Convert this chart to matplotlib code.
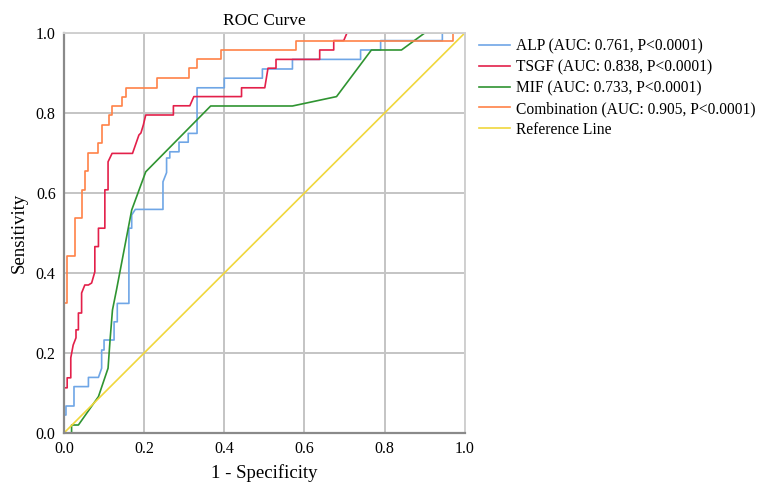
import matplotlib.pyplot as plt

plt.rcParams['font.family'] = ['Liberation Serif', 'DejaVu Serif']

# ROC vertices (1 - specificity, sensitivity)
alp_fpr = [0, 0, 0.005, 0.005, 0.025, 0.025, 0.061, 0.061, 0.086, 0.094, 0.094, 0.100, 0.100,
           0.125, 0.125, 0.133, 0.133, 0.162, 0.162, 0.169, 0.169, 0.178, 0.247, 0.247, 0.256,
           0.256, 0.264, 0.264, 0.287, 0.287, 0.310, 0.310, 0.332, 0.332, 0.400, 0.400, 0.495,
           0.495, 0.570, 0.570, 0.740, 0.740, 0.790, 0.790, 0.944, 0.944, 1.0]
alp_tpr = [0, 0.045, 0.045, 0.0675, 0.0675, 0.116, 0.116, 0.139, 0.139, 0.162, 0.2075, 0.2075, 0.2325,
           0.2325, 0.278, 0.278, 0.324, 0.324, 0.512, 0.512, 0.545, 0.559, 0.559, 0.628, 0.651,
           0.6875, 0.6875, 0.703, 0.703, 0.727, 0.727, 0.749, 0.749, 0.863, 0.863, 0.887, 0.887,
           0.91, 0.91, 0.934, 0.934, 0.9575, 0.9575, 0.981, 0.981, 1.0, 1.0]

tsgf_fpr = [0, 0, 0.008, 0.008, 0.017, 0.017, 0.023, 0.030, 0.030, 0.036, 0.036, 0.044, 0.044,
            0.052, 0.061, 0.069, 0.077, 0.077, 0.086, 0.086, 0.102, 0.102, 0.110, 0.110, 0.120,
            0.171, 0.187, 0.192, 0.198, 0.204, 0.273, 0.273, 0.314, 0.324, 0.443, 0.443, 0.501,
            0.509, 0.529, 0.529, 0.638, 0.638, 0.673, 0.673, 0.698, 0.706, 1.0]
tsgf_tpr = [0, 0.113, 0.113, 0.138, 0.138, 0.188, 0.22, 0.238, 0.258, 0.258, 0.3, 0.3, 0.35,
            0.37, 0.37, 0.375, 0.403, 0.466, 0.466, 0.512, 0.512, 0.608, 0.608, 0.678, 0.699,
            0.699, 0.745, 0.75, 0.77, 0.795, 0.795, 0.818, 0.818, 0.841, 0.841, 0.863, 0.863,
            0.912, 0.912, 0.934, 0.934, 0.9575, 0.9575, 0.981, 0.981, 1.0, 1.0]

mif_fpr = [0, 0.019, 0.019, 0.036, 0.086, 0.110, 0.115, 0.121, 0.131, 0.169, 0.204, 0.366,
           0.570, 0.680, 0.767, 0.842, 0.900, 1.0]
mif_tpr = [0, 0, 0.02, 0.02, 0.091, 0.162, 0.2325, 0.3075, 0.3575, 0.5575, 0.653, 0.8175,
           0.8175, 0.841, 0.9575, 0.9575, 1.0, 1.0]

comb_fpr = [0, 0, 0.008, 0.008, 0.027, 0.027, 0.044, 0.044, 0.052, 0.052, 0.061, 0.061, 0.085,
            0.085, 0.094, 0.094, 0.113, 0.113, 0.120, 0.120, 0.146, 0.146, 0.154, 0.154, 0.231,
            0.231, 0.312, 0.312, 0.332, 0.332, 0.392, 0.392, 0.579, 0.579, 0.970, 0.970, 1.0]
comb_tpr = [0, 0.326, 0.326, 0.443, 0.443, 0.538, 0.538, 0.608, 0.608, 0.654, 0.654, 0.700, 0.700,
            0.725, 0.725, 0.770, 0.770, 0.795, 0.795, 0.818, 0.818, 0.841, 0.841, 0.863, 0.863,
            0.887, 0.887, 0.912, 0.912, 0.935, 0.935, 0.957, 0.957, 0.980, 0.980, 1.0, 1.0]

labels = ['ALP (AUC: 0.761, P<0.0001)', 'TSGF (AUC: 0.838, P<0.0001)',
          'MIF (AUC: 0.733, P<0.0001)', 'Combination (AUC: 0.905, P<0.0001)', 'Reference Line']
colors = ['#6fa6e6', '#e3204a', '#2f9431', '#ff8247', '#f0d73c']
ticks = [0.0, 0.2, 0.4, 0.6, 0.8, 1.0]

fig = plt.figure(figsize=(7.57, 4.83), dpi=100)
ax = fig.add_axes([0.0845, 0.1035, 0.5295, 0.8282])

ax.plot(alp_fpr, alp_tpr, color=colors[0], lw=1.2, label=labels[0])
ax.plot(tsgf_fpr, tsgf_tpr, color=colors[1], lw=1.2, label=labels[1])
ax.plot(mif_fpr, mif_tpr, color=colors[2], lw=1.2, label=labels[2])
ax.plot(comb_fpr, comb_tpr, color=colors[3], lw=1.2, label=labels[3])
ax.plot([0, 1], [0, 1], color=colors[4], lw=1.2, label=labels[4])

ax.set_xlim(0, 1)
ax.set_ylim(0, 1)
ax.set_xticks(ticks)
ax.set_yticks(ticks)
ax.set_xticklabels(['%.1f' % t for t in ticks])
ax.set_yticklabels(['%.1f' % t for t in ticks])
ax.tick_params(length=0, labelsize=11.5, pad=6)
ax.grid(True, color='#c4c4c4', lw=1.4)
ax.set_axisbelow(True)
for side in ['top', 'right']:
    ax.spines[side].set_color('#d0d0d0')
    ax.spines[side].set_linewidth(1.4)
for side in ['left', 'bottom']:
    ax.spines[side].set_color('#8a8a8a')
    ax.spines[side].set_linewidth(1.6)

ax.set_title('ROC Curve', fontsize=12.5, pad=6)
ax.set_xlabel('1 - Specificity', fontsize=13.5, labelpad=5)
ax.set_ylabel('Sensitivity', fontsize=13.5, labelpad=6)

ax.legend(loc='upper left', bbox_to_anchor=(1.02, 1.003), frameon=False, fontsize=11.2,
          handlelength=2.0, handletextpad=0.4, labelspacing=0.32, borderaxespad=0)

fig.savefig('out.png', dpi=100)
